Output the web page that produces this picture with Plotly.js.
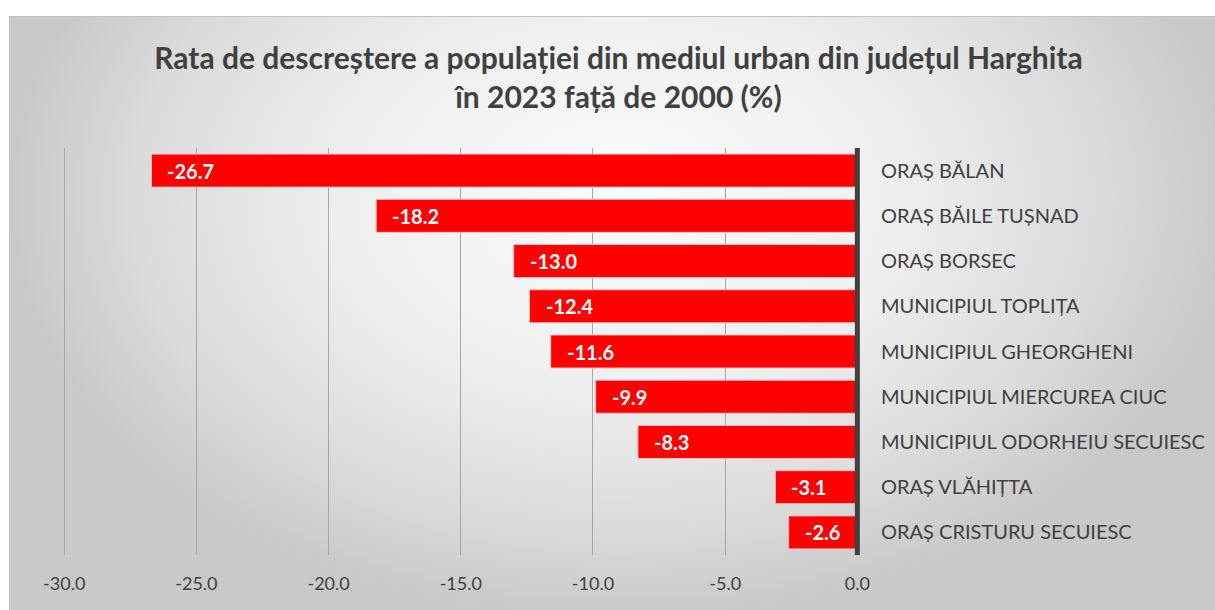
<!DOCTYPE html>
<html>
<head>
<meta charset="utf-8">
<script src="https://cdn.plot.ly/plotly-3.0.1.min.js"></script>
<style>
  html, body { margin:0; padding:0; background:#ffffff; }
  #wrap { position:relative; width:1215px; height:610px; overflow:hidden; background:#ffffff; }
  #bg { position:absolute; left:9px; top:16px; width:1220px; height:600px;
        border-top:1px solid #c4c4c4; border-left:1px solid #c8c8c8;
        background: radial-gradient(ellipse farthest-side at 50% 30%, #fcfcfc 0%, #efefef 45%, #dadada 80%, #c9c9c9 100%); }
  #chart { position:absolute; left:0; top:0; width:1215px; height:610px; }
</style>
</head>
<body>
<div id="wrap">
  <div id="bg"></div>
  <div id="chart"></div>
</div>
<script>
const categories = [
  "ORAȘ BĂLAN",
  "ORAȘ BĂILE TUȘNAD",
  "ORAȘ BORSEC",
  "MUNICIPIUL TOPLIȚA",
  "MUNICIPIUL GHEORGHENI",
  "MUNICIPIUL MIERCUREA CIUC",
  "MUNICIPIUL ODORHEIU SECUIESC",
  "ORAȘ VLĂHIȚTA",
  "ORAȘ CRISTURU SECUIESC"
];
const values = [-26.7, -18.2, -13.0, -12.4, -11.6, -9.9, -8.3, -3.1, -2.6];
const tickVals = [-30, -25, -20, -15, -10, -5, 0];
const tickText = ["-30.0", "-25.0", "-20.0", "-15.0", "-10.0", "-5.0", "0.0"];
const titleText = "Rata de descreștere a populației din mediul urban din județul Harghita<br>în 2023 față de 2000 (%)";

const FONT = "Lato, 'Open Sans', sans-serif";

const trace = {
  type: "bar",
  orientation: "h",
  y: categories,
  x: values,
  marker: { color: "#ff0000", line: { color: "rgba(255,200,200,0.9)", width: 1 } },
  hoverinfo: "x+y",
  cliponaxis: false
};

const annotations = values.map((v, i) => ({
  x: v, y: categories[i], xref: "x", yref: "y",
  text: "<b>" + v.toFixed(1) + "</b>",
  showarrow: false, xanchor: "left", yanchor: "middle", xshift: 14,
  font: { family: FONT, size: 20, color: "#ffffff" }
}));

const layout = {
  width: 1215, height: 610,
  paper_bgcolor: "rgba(0,0,0,0)",
  plot_bgcolor: "rgba(0,0,0,0)",
  margin: { l: 51, r: 355, t: 148, b: 55 },
  showlegend: false,
  bargap: 0.27,
  title: {
    text: "<b>" + titleText + "</b>",
    x: 0.509, xanchor: "center", xref: "container",
    y: 0.887, yanchor: "top", yref: "container",
    font: { family: FONT, size: 30, color: "#404040" }
  },
  xaxis: {
    range: [-30.5, 0.1],
    tickvals: tickVals, ticktext: tickText,
    showgrid: true, gridcolor: "#a6a6a6", gridwidth: 1,
    zeroline: false,
    showline: false, ticks: "",
    tickfont: { family: FONT, size: 18, color: "#404040" },
    ticklabelstandoff: 16,
    fixedrange: true
  },
  yaxis: {
    type: "category",
    autorange: "reversed",
    side: "right",
    showgrid: false, zeroline: false, showline: false,
    ticks: "", ticklabelstandoff: 20,
    tickfont: { family: FONT, size: 20, color: "#404040" },
    fixedrange: true
  },
  shapes: [{
    type: "line", xref: "x", yref: "paper",
    x0: 0, x1: 0, y0: 0, y1: 1,
    line: { color: "#404040", width: 5 }
  }],
  annotations: annotations
};

Plotly.newPlot("chart", [trace], layout, { displayModeBar: false, staticPlot: true });
</script>
</body>
</html>
